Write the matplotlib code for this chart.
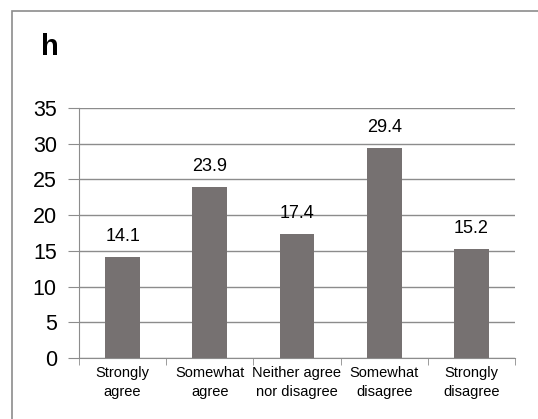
"""
Bar chart of agreement responses (panel h) saved to out.png
"""

import matplotlib.pyplot as plt
from matplotlib.patches import Rectangle

categories = ['Strongly\nagree', 'Somewhat\nagree', 'Neither agree\nnor disagree',
              'Somewhat\ndisagree', 'Strongly\ndisagree']
values = [14.1, 23.9, 17.4, 29.4, 15.2]
yticks = [0, 5, 10, 15, 20, 25, 30, 35]

plt.rcParams['font.family'] = ['Liberation Sans', 'DejaVu Sans']

fig = plt.figure(figsize=(5.38, 4.19), dpi=100)
# outer frame of the panel
fig.patches.append(Rectangle((12 / 538, -0.05), 1.0, 1 - 11 / 419 + 0.05,
                             transform=fig.transFigure, fill=False,
                             edgecolor='#8c8c8c', linewidth=1.2))
fig.text(41 / 538, 1 - 55 / 419, 'h', fontsize=21, fontweight='bold')

ax = fig.add_axes([79 / 538, 1 - 358 / 419, (515 - 79) / 538, (358 - 108) / 419])
x = range(len(values))
bars = ax.bar(x, values, width=0.4, color='#767171', zorder=3)
for b, v in zip(bars, values):
    ax.text(b.get_x() + b.get_width() / 2, v + 1.7, f'{v}', ha='center',
            va='bottom', fontsize=13)

ax.set_xlim(-0.5, len(values) - 0.5)
ax.set_ylim(0, 35)
ax.set_yticks(yticks)
ax.tick_params(axis='y', labelsize=15.5, length=8, color='#8c8c8c', pad=8)
ax.yaxis.grid(True, color='#8c8c8c', linewidth=1)
ax.set_axisbelow(True)

# category labels centred, tick marks on the boundaries
ax.set_xticks(list(x))
ax.set_xticklabels(categories, fontsize=10.5, linespacing=1.4)
ax.tick_params(axis='x', length=0, pad=6)
ax.set_xticks([i - 0.5 for i in range(len(values) + 1)], minor=True)
ax.tick_params(axis='x', which='minor', length=5, color='#8c8c8c')

for side in ['top', 'right']:
    ax.spines[side].set_visible(False)
ax.spines['left'].set_color('#8c8c8c')
ax.spines['bottom'].set_color('#8c8c8c')

plt.savefig('out.png')
